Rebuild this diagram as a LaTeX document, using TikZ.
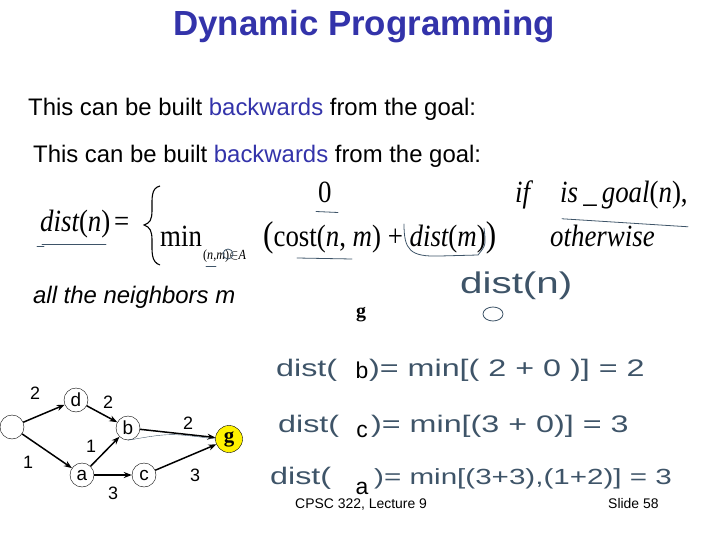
\documentclass[tikz,border=0pt]{standalone}
\usepackage{fontspec}
\setmainfont{Liberation Sans}
\newfontfamily\tms[FakeStretch=0.87]{Liberation Serif}
\newfontfamily\tmsplain{Liberation Serif}
\newfontfamily\pen[FakeStretch=1.35]{Liberation Sans}
\usepackage{tikz}
\usetikzlibrary{arrows,arrows.meta,positioning,calc}
\usepackage{xcolor}
\definecolor{titleblue}{RGB}{51,51,170}
\definecolor{ink}{RGB}{62,84,104}
\newcommand{\fs}[1]{\fontsize{#1}{#1}\selectfont}

\begin{document}
\begin{tikzpicture}[
    x=1bp, y=-1bp,
    title/.style={font=\fs{35}\bfseries, text=titleblue},
    body/.style={font=\fs{24}, anchor=base west, inner sep=0},
    formula/.style={font=\tms\fs{31}, anchor=base west, inner sep=0},
    handwr/.style={font=\pen\fs{24}, text=ink, anchor=base west, inner sep=0},
    ink/.style={draw=ink, line width=0.8pt, line cap=round},
    gnode/.style={circle, draw=black, thin, minimum size=24bp, inner sep=0, font=\fs{19}},
    goal/.style={gnode, fill=yellow, minimum size=27bp, font=\tmsplain\fs{21}\bfseries},
    weight/.style={font=\fs{18}, inner sep=0},
    letter/.style={font=\fs{23}, anchor=base, inner sep=0},
    footer/.style={font=\fs{14}, anchor=base west, inner sep=0},
    arrow/.style={->, >={Stealth[length=8bp,width=6bp]}, line width=1.5pt}
]
\useasboundingbox (0,0) rectangle (720,540);

% Title and text
\node[title] (heading) at (364,27) {Dynamic Programming};
\node[body] (line1) at (28,116) {This can be built \textcolor{titleblue}{backwards} from the goal:};
\node[body] (line2) at (33,163) {This can be built \textcolor{titleblue}{backwards} from the goal:};

% Recurrence
\node[formula] (distn) at (40,232) {\itshape dist\upshape(\itshape n\upshape)};
\node[formula] (eq) at (114,232) {=};
\draw[line width=1.1pt] (160,186) .. controls (151,188) and (152,198) .. (152,210)
    .. controls (152,220) and (150,223) .. (144,225)
    .. controls (150,227) and (152,231) .. (152,240)
    .. controls (152,252) and (151,262) .. (160,265);
\node[formula] (zero) at (318,203) {0};
\node[formula] (minop) at (160,247) {min};
\node[font=\tms\fs{14}, anchor=base west, inner sep=0] (sub) at (203,260) {(\itshape n\upshape,\itshape m\upshape)$\in$\itshape A};
\node[formula] (sum) at (263,247) {\fs{36}(\fs{31}cost(\itshape n\upshape, \itshape m\upshape) + \itshape dist\upshape(\itshape m\upshape)\fs{36})};
\node[formula] (iff) at (515,203) {\itshape if};
\node[formula] (isgoal) at (560,203) {\itshape is\,\_\,goal\upshape(\itshape n\upshape),};
\node[formula] (other) at (550,247) {\itshape otherwise};

% Pen marks on the recurrence
\draw[ink] (distn.south west) ++(2,6) -- ++(64,0);
\draw[ink] (37,246) -- (44,246);
\draw[ink] (zero.south west) ++(-2,8) -- ++(22,1);
\draw[ink] (isgoal.south west) ++(2,9) -- ++(126,8);
\draw[ink] (297,258) -- (352,259);
\draw[ink] (404,224) .. controls (404,250) and (410,257) .. (440,256) -- (478,255) .. controls (486,245) .. (484,228);
\draw[ink] (228,254) circle (5);
\draw[ink] (206,266) -- (216,266);

% Notes by hand
\node[handwr, font=\pen\fs{30}] (distu) at (460,293) {dist(n)};
\draw[ink] (493,314) ellipse (10 and 7);
\node[font=\tmsplain\fs{20}\bfseries, inner sep=0] (gtop) at (361,315) {g};
\node[body, font=\fs{24}\itshape] (neigh) at (33,303) {all the neighbors m};

% Graph
\node[gnode] (s) at (12,427) {};
\node[gnode] (d) at (76,400) {d};
\node[gnode] (b) at (128,428) {b};
\node[gnode] (a) at (82,475) {a};
\node[gnode] (c) at (144,475) {c};
\node[goal] (g) at (229,439) {g};

\draw[arrow] (s) -- (d);
\draw[arrow] (s) -- (a);
\draw[arrow] (d) -- (b);
\draw[arrow] (a) -- (b);
\draw[arrow] (a) -- (c);
\draw[arrow] (b) -- (g);
\draw[arrow] (c) -- (g);
\draw[ink, thin] (b.south) .. controls (170,433) .. (g.west);

\node[weight] (w1) at (35,393) {2};
\node[weight] (w2) at (108,402) {2};
\node[weight] (w3) at (28,462) {1};
\node[weight] (w4) at (91,446) {1};
\node[weight] (w5) at (113,493) {3};
\node[weight] (w6) at (188,423) {2};
\node[weight] (w7) at (195,475) {3};

% Working out
\node[handwr] (hb1) at (276,376) {dist(};
\node[letter] (lb) at (362,378) {b};
\node[handwr] (hb2) at (369,376) {)= min[( 2 + 0 )] = 2};
\node[handwr] (hc1) at (278,432) {dist(};
\node[letter] (lc) at (362,437) {c};
\node[handwr] (hc2) at (371,432) {)= min[(3 + 0)] = 3};
\node[handwr] (ha1) at (270,484) {dist(};
\node[letter] (la) at (362,494) {a};
\node[handwr, font=\pen\fs{22}] (ha2) at (374,484) {)= min[(3+3),(1+2)] = 3};

% Footer
\node[footer] (course) at (295,508) {CPSC 322, Lecture 9};
\node[footer] (slide) at (608,508) {Slide 58};

\end{tikzpicture}
\end{document}
